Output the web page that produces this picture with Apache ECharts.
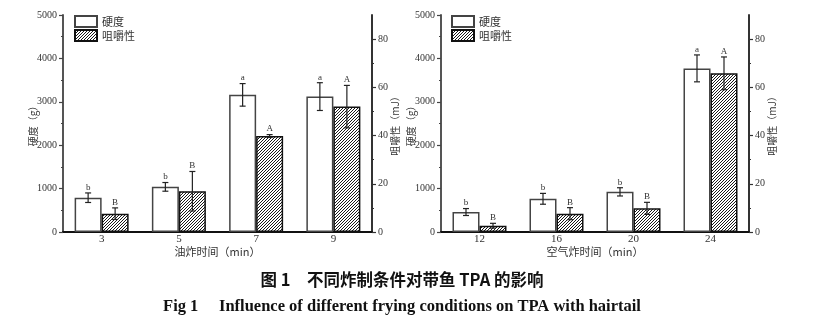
<!DOCTYPE html>
<html>
<head>
<meta charset="utf-8">
<script src="https://cdn.jsdelivr.net/npm/echarts@6/dist/echarts.min.js"></script>
<style>
html, body { margin: 0; padding: 0; background: #fff; }
#chart { width: 815px; height: 322px; }
</style>
</head>
<body>
<div id="chart"></div>
<script>
// Deep-fried hairtail: frying time (min)
const fryTimes = ['3', '5', '7', '9'];
const fryHardness = [790, 1040, 3160, 3120];
const fryHardnessErr = [110, 100, 260, 320];
const fryHardnessSig = ['b', 'b', 'a', 'a'];
const fryChewiness = [7.6, 16.9, 39.8, 52.0];
const fryChewinessErr = [2.4, 8.2, 0.6, 8.8];
const fryChewinessSig = ['B', 'B', 'A', 'A'];

// Air-fried hairtail: frying time (min)
const airTimes = ['12', '16', '20', '24'];
const airHardness = [460, 765, 925, 3770];
const airHardnessErr = [80, 125, 95, 310];
const airHardnessSig = ['b', 'b', 'b', 'a'];
const airChewiness = [2.6, 7.6, 9.8, 65.8];
const airChewinessErr = [1.0, 2.5, 2.5, 6.8];
const airChewinessSig = ['B', 'B', 'B', 'A'];

// Axis ranges and labelled ticks
const hardnessMax = 5000;
const hardnessStep = 1000;
const chewMax = 90;
const chewTicks = [0, 20, 40, 60, 80];
const chewMinorTicks = [10, 30, 50, 70];

const SERIF = '"Liberation Serif", "Times New Roman", serif';
const CJK = '"Noto Sans CJK SC", sans-serif';
const BAR_W = 27;

// Diagonal hatch tile for the chewiness bars
function hatchTile() {
  const c = document.createElement('canvas');
  c.width = 3; c.height = 3;
  const ctx = c.getContext('2d');
  const img = ctx.createImageData(3, 3);
  for (let y = 0; y < 3; y++) {
    for (let x = 0; x < 3; x++) {
      const i = (y * 3 + x) * 4;
      const v = ((x + y) % 3 === 0) ? 25 : 255;
      img.data[i] = img.data[i + 1] = img.data[i + 2] = v;
      img.data[i + 3] = 255;
    }
  }
  ctx.putImageData(img, 0, 0);
  return c;
}
const hatch = { image: hatchTile(), repeat: 'repeat' };

const grids = [
  { left: 63, top: 15, width: 309, height: 217 },
  { left: 441, top: 15, width: 308, height: 217 }
];

const plainNumber = v => String(v);

function xAxisFor(gridIndex, cats, title) {
  return {
    type: 'category', gridIndex, data: cats,
    axisLine: { lineStyle: { color: '#111', width: 2 } },
    axisTick: { show: false },
    axisLabel: { color: '#333', fontFamily: SERIF, fontSize: 11, margin: 2 },
    name: title, nameLocation: 'middle', nameGap: 14, nameMoveOverlap: false,
    nameTextStyle: { color: '#333', fontFamily: CJK, fontSize: 11 }
  };
}

function hardnessAxis(gridIndex) {
  return {
    type: 'value', gridIndex, position: 'left',
    min: 0, max: hardnessMax, interval: hardnessStep,
    splitLine: { show: false },
    axisLine: { show: true, lineStyle: { color: '#555', width: 2 } },
    axisTick: { show: true, length: 4, lineStyle: { color: '#444', width: 1.2 } },
    minorTick: { show: true, splitNumber: 2, length: 2, lineStyle: { color: '#444', width: 1.2 } },
    minorSplitLine: { show: false },
    axisLabel: { color: '#333', fontFamily: SERIF, fontSize: 10, margin: 6, formatter: plainNumber },
    name: '硬度（g）', nameLocation: 'middle', nameRotate: 90, nameGap: 25, nameMoveOverlap: false,
    nameTextStyle: { color: '#333', fontFamily: CJK, fontSize: 10 }
  };
}

function chewAxis(gridIndex) {
  return {
    type: 'value', gridIndex, position: 'right',
    min: 0, max: chewMax,
    splitLine: { show: false },
    axisLine: { show: true, lineStyle: { color: '#333', width: 2 } },
    axisTick: { show: true, length: 4, customValues: chewTicks, lineStyle: { color: '#333', width: 1.2 } },
    axisLabel: { color: '#333', fontFamily: SERIF, fontSize: 10, margin: 6, customValues: chewTicks, formatter: plainNumber },
    name: '咀嚼性（mJ）', nameLocation: 'middle', nameRotate: 90, nameGap: 18, nameMoveOverlap: false,
    nameTextStyle: { color: '#333', fontFamily: CJK, fontSize: 10 }
  };
}

function chewMinorAxis(gridIndex) {
  return {
    type: 'value', gridIndex, position: 'right',
    min: 0, max: chewMax,
    splitLine: { show: false },
    axisLine: { show: false },
    axisTick: { show: true, length: 2, customValues: chewMinorTicks, lineStyle: { color: '#333', width: 1.2 } },
    axisLabel: { show: false }
  };
}

function barSeries(name, xi, yi, values, fill, border) {
  return {
    name, type: 'bar', xAxisIndex: xi, yAxisIndex: yi, data: values,
    barWidth: BAR_W, barGap: '0%',
    itemStyle: { color: fill, borderColor: border, borderWidth: 1.5 },
    emphasis: { disabled: true }
  };
}

// Error whiskers with significance letters; side -1 = left bar, +1 = right bar
function errorSeries(xi, yi, values, errs, sigs, side) {
  return {
    type: 'custom', xAxisIndex: xi, yAxisIndex: yi, z: 10, silent: true,
    data: values.map((v, i) => [i, v, errs[i]]),
    renderItem(params, api) {
      const i = api.value(0), v = api.value(1), e = api.value(2);
      const top = api.coord([i, v + e]);
      const bot = api.coord([i, v - e]);
      const x = top[0] + side * BAR_W / 2;
      const cap = 3;
      const ls = { stroke: '#222', lineWidth: 1.2 };
      return {
        type: 'group',
        children: [
          { type: 'line', shape: { x1: x, y1: top[1], x2: x, y2: bot[1] }, style: ls },
          { type: 'line', shape: { x1: x - cap, y1: top[1], x2: x + cap, y2: top[1] }, style: ls },
          { type: 'line', shape: { x1: x - cap, y1: bot[1], x2: x + cap, y2: bot[1] }, style: ls },
          {
            type: 'text',
            style: {
              text: sigs[params.dataIndex], x: x, y: top[1] - 1,
              textAlign: 'center', textVerticalAlign: 'bottom',
              font: '9px ' + SERIF, fill: '#333'
            }
          }
        ]
      };
    }
  };
}

function legendAt(left) {
  return {
    orient: 'vertical', left, top: 15, padding: 0,
    icon: 'rect',
    itemWidth: 22, itemHeight: 11, itemGap: 1,
    selectedMode: false,
    data: ['硬度', '咀嚼性'],
    textStyle: { color: '#333', fontFamily: CJK, fontSize: 11, lineHeight: 11 }
  };
}

const option = {
  animation: false,
  backgroundColor: '#fff',
  grid: grids,
  legend: [legendAt(74), legendAt(451)],
  xAxis: [
    xAxisFor(0, fryTimes, '油炸时间（min）'),
    xAxisFor(1, airTimes, '空气炸时间（min）')
  ],
  yAxis: [
    hardnessAxis(0), chewAxis(0), chewMinorAxis(0),
    hardnessAxis(1), chewAxis(1), chewMinorAxis(1)
  ],
  series: [
    barSeries('硬度', 0, 0, fryHardness, '#fff', '#444'),
    barSeries('咀嚼性', 0, 1, fryChewiness, hatch, '#111'),
    errorSeries(0, 0, fryHardness, fryHardnessErr, fryHardnessSig, -1),
    errorSeries(0, 1, fryChewiness, fryChewinessErr, fryChewinessSig, 1),
    barSeries('硬度', 1, 3, airHardness, '#fff', '#444'),
    barSeries('咀嚼性', 1, 4, airChewiness, hatch, '#111'),
    errorSeries(1, 3, airHardness, airHardnessErr, airHardnessSig, -1),
    errorSeries(1, 4, airChewiness, airChewinessErr, airChewinessSig, 1)
  ],
  graphic: [
    {
      type: 'text', x: 402, y: 280,
      style: {
        text: '图 1\u3000不同炸制条件对带鱼 TPA 的影响',
        textAlign: 'center', textVerticalAlign: 'middle',
        font: 'bold 16.5px ' + CJK, fill: '#111'
      }
    },
    {
      type: 'text', x: 402, y: 307,
      style: {
        text: 'Fig 1\u2003 Influence of different frying conditions on TPA with hairtail',
        textAlign: 'center', textVerticalAlign: 'middle',
        font: 'bold 16.5px ' + SERIF, fill: '#111'
      }
    }
  ]
};

const chart = echarts.init(document.getElementById('chart'), null, { renderer: 'canvas' });
chart.setOption(option);
</script>
</body>
</html>
